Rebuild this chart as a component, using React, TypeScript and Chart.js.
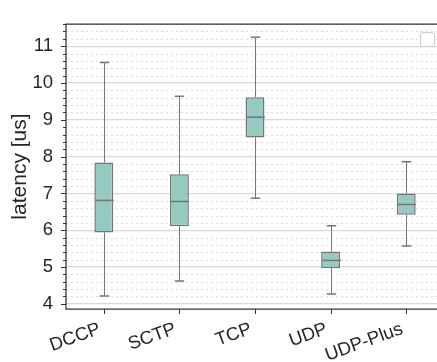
import React, { useEffect, useRef } from "react";
import { Chart, registerables } from "chart.js";

Chart.register(...registerables);

const categories = ["DCCP", "SCTP", "TCP", "UDP", "UDP-Plus"];
const whiskerLow = [4.21, 4.62, 6.87, 4.27, 5.57];
const q1 = [5.94, 6.11, 8.52, 4.97, 6.42];
const median = [6.81, 6.78, 9.07, 5.18, 6.7];
const q3 = [7.84, 7.52, 9.61, 5.42, 7.0];
const whiskerHigh = [10.56, 9.64, 11.24, 6.12, 7.86];
const majorTicks = [4, 5, 6, 7, 8, 9, 10, 11];
const Y_MIN = 3.86;
const Y_MAX = 11.6;
const MINOR_STEP = 0.2;

const FONT = "'Liberation Sans', Arial, sans-serif";
const BOX_FILL = "#96cac1";
const EDGE = "#767676";
const SPINE = "#333333";

const extras = {
  id: "boxExtras",
  beforeDatasetsDraw(chart: any) {
    const { ctx, chartArea, scales } = chart;
    const y = scales.y;
    ctx.save();
    ctx.strokeStyle = "#dcdcdc";
    ctx.lineWidth = 1;
    ctx.setLineDash([2, 3]);
    for (let k = 0; k * MINOR_STEP + 4 <= Y_MAX + 1e-9; k++) {
      if (k % 5 === 0) continue;
      const v = 4 + k * MINOR_STEP;
      const py = Math.round(y.getPixelForValue(v)) + 0.5;
      ctx.beginPath();
      ctx.moveTo(chartArea.left, py);
      ctx.lineTo(chartArea.right, py);
      ctx.stroke();
    }
    ctx.restore();
  },
  afterDatasetsDraw(chart: any) {
    const { ctx, scales } = chart;
    const x = scales.x;
    const y = scales.y;
    const meta = chart.getDatasetMeta(0);
    ctx.save();
    categories.forEach((_, i) => {
      const bar = meta.data[i];
      const px = Math.round(x.getPixelForValue(i)) + 0.5;
      const half = bar.width / 2;
      ctx.strokeStyle = EDGE;
      ctx.lineWidth = 1;
      ctx.beginPath();
      ctx.moveTo(px, y.getPixelForValue(q3[i]));
      ctx.lineTo(px, y.getPixelForValue(whiskerHigh[i]));
      ctx.moveTo(px, y.getPixelForValue(q1[i]));
      ctx.lineTo(px, y.getPixelForValue(whiskerLow[i]));
      ctx.stroke();
      ctx.lineWidth = 1.5;
      ctx.beginPath();
      const hy = y.getPixelForValue(whiskerHigh[i]);
      const ly = y.getPixelForValue(whiskerLow[i]);
      ctx.moveTo(px - half / 2, hy);
      ctx.lineTo(px + half / 2, hy);
      ctx.moveTo(px - half / 2, ly);
      ctx.lineTo(px + half / 2, ly);
      ctx.stroke();
      const my = y.getPixelForValue(median[i]);
      ctx.lineWidth = 1.5;
      ctx.beginPath();
      ctx.moveTo(px - half, my);
      ctx.lineTo(px + half, my);
      ctx.stroke();
    });
    ctx.restore();
  },
  afterDraw(chart: any) {
    const { ctx, chartArea, scales } = chart;
    const { left, right, top, bottom } = chartArea;
    const x = scales.x;
    const y = scales.y;
    ctx.save();
    ctx.strokeStyle = SPINE;
    ctx.lineWidth = 1.25;
    ctx.beginPath();
    ctx.moveTo(right, top);
    ctx.lineTo(left, top);
    ctx.lineTo(left, bottom);
    ctx.lineTo(right, bottom);
    ctx.stroke();
    ctx.lineWidth = 1;
    for (let k = 0; k * MINOR_STEP + 4 <= Y_MAX + 1e-9; k++) {
      const v = 4 + k * MINOR_STEP;
      const py = Math.round(y.getPixelForValue(v)) + 0.5;
      const len = k % 5 === 0 ? 5 : 3;
      ctx.beginPath();
      ctx.moveTo(left - len, py);
      ctx.lineTo(left, py);
      ctx.stroke();
    }
    categories.forEach((_, i) => {
      const px = Math.round(x.getPixelForValue(i)) + 0.5;
      ctx.beginPath();
      ctx.moveTo(px, bottom);
      ctx.lineTo(px, bottom + 5);
      ctx.stroke();
    });
    const lx = right - 23.5;
    const ly = top + 8.5;
    const w = 14;
    const h = 14;
    const r = 2.5;
    ctx.fillStyle = "rgba(255,255,255,0.8)";
    ctx.strokeStyle = "#cccccc";
    ctx.lineWidth = 1;
    ctx.beginPath();
    ctx.moveTo(lx + r, ly);
    ctx.lineTo(lx + w - r, ly);
    ctx.arcTo(lx + w, ly, lx + w, ly + r, r);
    ctx.lineTo(lx + w, ly + h - r);
    ctx.arcTo(lx + w, ly + h, lx + w - r, ly + h, r);
    ctx.lineTo(lx + r, ly + h);
    ctx.arcTo(lx, ly + h, lx, ly + h - r, r);
    ctx.lineTo(lx, ly + r);
    ctx.arcTo(lx, ly, lx + r, ly, r);
    ctx.closePath();
    ctx.fill();
    ctx.stroke();
    ctx.restore();
  },
};

export default function App() {
  const ref = useRef<HTMLCanvasElement | null>(null);
  useEffect(() => {
    if (!ref.current) return;
    const boxes = categories.map((_, i) => [q1[i], q3[i]]);
    const chart = new Chart(ref.current, {
      type: "bar",
      data: {
        labels: categories,
        datasets: [
          {
            data: boxes as any,
            backgroundColor: BOX_FILL,
            borderColor: EDGE,
            borderWidth: 1.5,
            borderSkipped: false,
            barPercentage: 0.25,
            categoryPercentage: 1,
          },
        ],
      },
      options: {
        animation: false,
        responsive: false,
        devicePixelRatio: 1,
        layout: { padding: { top: 8, left: 0, right: 0, bottom: 0 } },
        plugins: { legend: { display: false }, tooltip: { enabled: false } },
        scales: {
          x: {
            type: "category",
            offset: true,
            grid: { display: false },
            border: { display: false },
            ticks: {
              color: "#262626",
              font: { family: FONT, size: 18.5 },
              minRotation: 20,
              maxRotation: 20,
              padding: 1,
              labelOffset: -4,
            },
            afterFit(scale: any) {
              scale.height = 53;
            },
          },
          y: {
            type: "linear",
            min: Y_MIN,
            max: Y_MAX,
            afterBuildTicks(scale: any) {
              scale.ticks = majorTicks.map((v) => ({ value: v }));
            },
            grid: { color: "#d9d9d9", lineWidth: 1.2, drawTicks: false },
            border: { display: false },
            ticks: {
              color: "#262626",
              font: { family: FONT, size: 18.5 },
              padding: 13,
            },
            title: {
              display: true,
              text: "latency [us]",
              color: "#262626",
              font: { family: FONT, size: 21 },
              padding: { top: 8, bottom: 0 },
            },
            afterFit(scale: any) {
              scale.width = 66;
            },
          },
        },
      },
      plugins: [extras],
    });
    return () => chart.destroy();
  }, []);
  return (
    <div
      style={{
        position: "fixed",
        left: 0,
        top: 0,
        width: 437,
        height: 362,
        overflow: "hidden",
        background: "#fff",
      }}
    >
      <canvas ref={ref} width={444} height={362} style={{ width: 444, height: 362, display: "block" }} />
    </div>
  );
}
